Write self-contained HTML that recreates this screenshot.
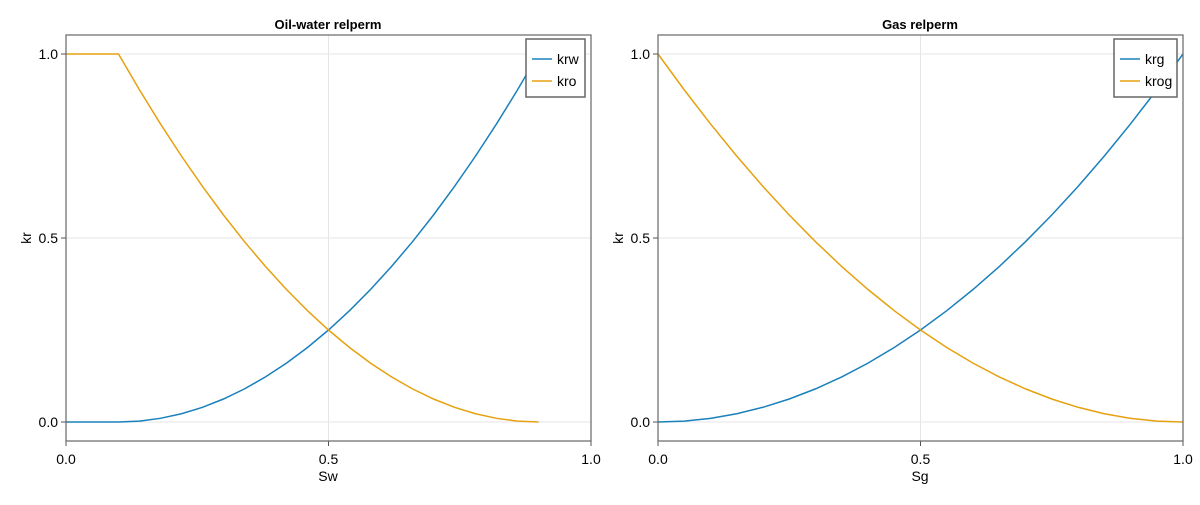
<!DOCTYPE html><html><head><style>body{margin:0;background:#fff}text{font-family:"Liberation Sans",sans-serif}</style></head><body>
<svg width="1200" height="500" xmlns="http://www.w3.org/2000/svg" id="s"></svg>
<script>
const s=document.getElementById('s');let h='';
function P(x0,title,xl,xs,f1,f2,n1,n2,lx,lw){
 const X=v=>x0+v*525,Y=v=>422-v*368;
 for(const v of [0,0.5,1]){h+=`<line x1="${X(v)}" x2="${X(v)}" y1="35" y2="441" stroke="#e6e6e6"/><line x1="${x0}" x2="${x0+525}" y1="${Y(v)}" y2="${Y(v)}" stroke="#e6e6e6"/>`;
 h+=`<line x1="${X(v)}" x2="${X(v)}" y1="441" y2="446" stroke="#555"/><line x1="${x0-5}" x2="${x0}" y1="${Y(v)}" y2="${Y(v)}" stroke="#555"/>`;
 h+=`<text x="${X(v)}" y="464" font-size="14" text-anchor="middle">${v.toFixed(1)}</text><text x="${x0-8}" y="${Y(v)+5}" font-size="14" text-anchor="end">${v.toFixed(1)}</text>`;}
 const pl=(f,c)=>`<polyline fill="none" stroke="${c}" stroke-width="1.5" points="${xs.map(x=>X(x)+','+Y(f(x))).join(' ')}"/>`;
 h+=pl(f1,'#1a80bb')+pl(f2,'#e6a110');
 h+=`<rect x="${x0}" y="35" width="525" height="406" fill="none" stroke="#666" stroke-width="1.2"/>`;
 h+=`<text x="${x0+262}" y="29" font-size="13" font-weight="bold" text-anchor="middle">${title}</text>`;
 h+=`<text x="${x0+262}" y="481" font-size="14" text-anchor="middle">${xl}</text>`;
 h+=`<text x="${x0-35}" y="238" font-size="14" text-anchor="middle" transform="rotate(-90 ${x0-35} 238)">kr</text>`;
 h+=`<rect x="${lx}" y="39" width="${lw}" height="58" fill="#fff" stroke="#666" stroke-width="1.5"/>`;
 h+=`<line x1="${lx+6}" x2="${lx+26}" y1="59" y2="59" stroke="#1a80bb" stroke-width="1.5"/><line x1="${lx+6}" x2="${lx+26}" y1="81" y2="81" stroke="#e6a110" stroke-width="1.5"/>`;
 h+=`<text x="${lx+31}" y="64" font-size="14">${n1}</text><text x="${lx+31}" y="86" font-size="14">${n2}</text>`;
}
let xa=[0];for(let i=0;i<=20;i++)xa.push(0.1+0.04*i);
let xb=[];for(let i=0;i<=20;i++)xb.push(i/20);
P(66,'Oil-water relperm','Sw',xa,x=>{const k=Math.max(0,(x-0.1)/0.8);return k*k},x=>{const k=Math.min(1,(0.9-x)/0.8);return k*k},'krw','kro',526,59);
P(658,'Gas relperm','Sg',xb,t=>t*t,t=>(1-t)*(1-t),'krg','krog',1114,63);
s.innerHTML=h;
</script></body></html>
